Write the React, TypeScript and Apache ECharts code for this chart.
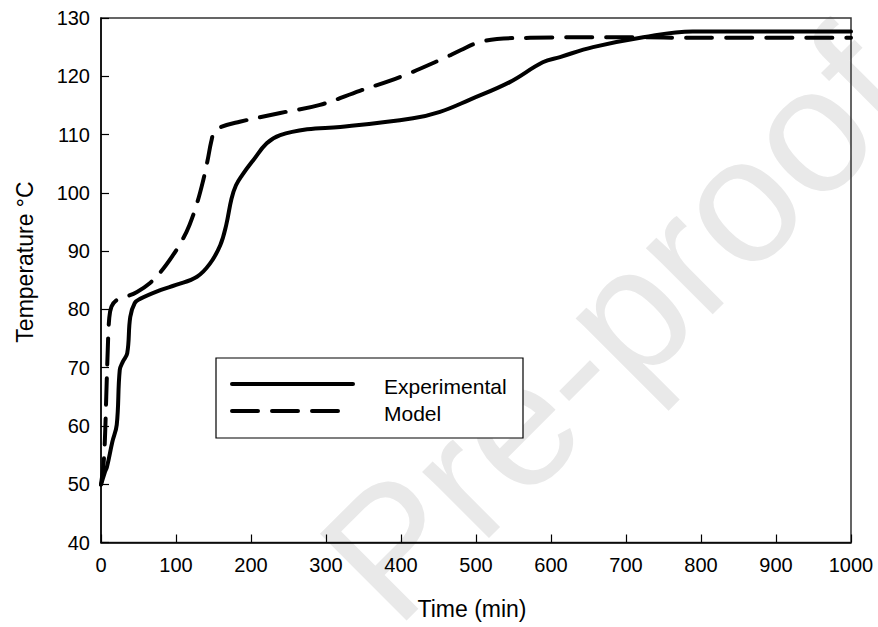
import React, { useEffect, useRef } from "react";
import * as echarts from "echarts";

const expTime = [0, 5, 8, 15, 21, 25, 29, 35, 39, 45, 52, 79, 100, 128, 145, 159, 167, 174, 180, 188, 203, 221, 239, 275, 319, 416, 452, 492, 545, 589, 612, 656, 723, 789, 879, 1000];
const expTemp = [49.9, 52, 53, 57.2, 60.2, 69.6, 71, 72.5, 78.7, 81.1, 81.8, 83.3, 84.2, 85.6, 87.8, 91, 94.5, 99, 101.3, 103, 105.6, 108.5, 109.9, 110.9, 111.3, 112.8, 113.9, 116, 119, 122.4, 123.3, 125, 126.7, 127.7, 127.7, 127.7];

const modelTime = [0, 3, 5, 7, 9, 11, 14, 20, 30, 48, 65, 80, 96, 108, 118, 128, 136, 142, 147, 151, 160, 185, 239, 292, 345, 399, 452, 480, 501, 528, 572, 639, 700, 800, 1000];
const modelTemp = [50, 53, 57, 65, 73, 78.5, 80.5, 81.5, 82, 83, 84.5, 86.5, 89.3, 91.8, 94.5, 98.2, 102, 105.5, 108.8, 110.4, 111.3, 112.2, 113.7, 115.1, 117.5, 119.9, 122.8, 124.5, 125.7, 126.4, 126.6, 126.7, 126.7, 126.6, 126.6];

const xTicks = { min: 0, max: 1000, interval: 100 };
const yTicks = { min: 40, max: 130, interval: 10 };

const seriesNames = ["Experimental", "Model"];
const FONT = "'Liberation Sans', Arial, Helvetica, sans-serif";

export default function App() {
  const ref = useRef<HTMLDivElement>(null);
  useEffect(() => {
    if (!ref.current) return;
    const chart = echarts.init(ref.current, undefined, { renderer: "svg" });
    const expData = expTime.map((t, i) => [t, expTemp[i]]);
    const modelData = modelTime.map((t, i) => [t, modelTemp[i]]);
    chart.setOption({
      animation: false,
      backgroundColor: "#ffffff",
      grid: {
        left: 101,
        top: 18,
        right: 27,
        bottom: 84.5,
        show: true,
        borderColor: "#333",
        borderWidth: 1.5,
        containLabel: false,
      },
      xAxis: {
        type: "value",
        min: xTicks.min,
        max: xTicks.max,
        interval: xTicks.interval,
        axisLine: { show: true, onZero: false, lineStyle: { color: "#000", width: 1.5 } },
        axisTick: { show: true, inside: true, length: 8, lineStyle: { color: "#000", width: 1.2 } },
        axisLabel: { color: "#000", fontSize: 20, fontFamily: FONT, margin: 12, formatter: (v: number) => String(v) },
        splitLine: { show: false },
      },
      yAxis: {
        type: "value",
        min: yTicks.min,
        max: yTicks.max,
        interval: yTicks.interval,
        axisLine: { show: true, onZero: false, lineStyle: { color: "#000", width: 1.5 } },
        axisTick: { show: true, inside: true, length: 8, lineStyle: { color: "#000", width: 1.2 } },
        axisLabel: { color: "#000", fontSize: 20, fontFamily: FONT, margin: 11, formatter: (v: number) => String(v) },
        splitLine: { show: false },
      },
      series: [
        {
          name: seriesNames[0],
          type: "line",
          data: expData,
          showSymbol: false,
          symbol: "none",
          smooth: 0.4,
          lineStyle: { color: "#000", width: 4, cap: "round", join: "round" },
          z: 3,
        },
        {
          name: seriesNames[1],
          type: "line",
          data: modelData,
          showSymbol: false,
          symbol: "none",
          smooth: 0.4,
          lineStyle: { color: "#000", width: 4, type: [26, 14], cap: "round", join: "round" },
          z: 3,
        },
      ],
      graphic: [
        {
          type: "text",
          x: 615,
          y: 325,
          rotation: Math.PI / 4,
          z: -10,
          silent: true,
          style: {
            text: "Pre-proof",
            fontSize: 178,
            fontFamily: FONT,
            fill: "#e9e9e9",
            align: "center",
            verticalAlign: "middle",
          },
        },
        {
          type: "text",
          x: 25,
          y: 262,
          rotation: Math.PI / 2,
          style: {
            text: "Temperature °C",
            fontSize: 23,
            fontFamily: FONT,
            fill: "#000",
            align: "center",
            verticalAlign: "middle",
          },
        },
        {
          type: "text",
          x: 472,
          y: 609,
          style: {
            text: "Time (min)",
            fontSize: 23,
            fontFamily: FONT,
            fill: "#000",
            align: "center",
            verticalAlign: "middle",
          },
        },
        {
          type: "rect",
          shape: { x: 216, y: 358, width: 307, height: 80 },
          style: { fill: "#fff", stroke: "#000", lineWidth: 1.2 },
          z: 5,
        },
        {
          type: "line",
          shape: { x1: 232, y1: 384, x2: 353, y2: 384 },
          style: { stroke: "#000", lineWidth: 4, lineCap: "round" },
          z: 6,
        },
        {
          type: "line",
          shape: { x1: 232, y1: 411, x2: 338, y2: 411 },
          style: { stroke: "#000", lineWidth: 4, lineCap: "round", lineDash: [26, 14] },
          z: 6,
        },
        {
          type: "text",
          x: 384,
          y: 386,
          z: 6,
          style: {
            text: seriesNames[0],
            fontSize: 21,
            fontFamily: FONT,
            fill: "#000",
            align: "left",
            verticalAlign: "middle",
          },
        },
        {
          type: "text",
          x: 384,
          y: 413,
          z: 6,
          style: {
            text: seriesNames[1],
            fontSize: 21,
            fontFamily: FONT,
            fill: "#000",
            align: "left",
            verticalAlign: "middle",
          },
        },
      ],
    });
    return () => chart.dispose();
  }, []);
  return <div ref={ref} style={{ width: 878, height: 627, position: "absolute", left: 0, top: 0 }} />;
}
